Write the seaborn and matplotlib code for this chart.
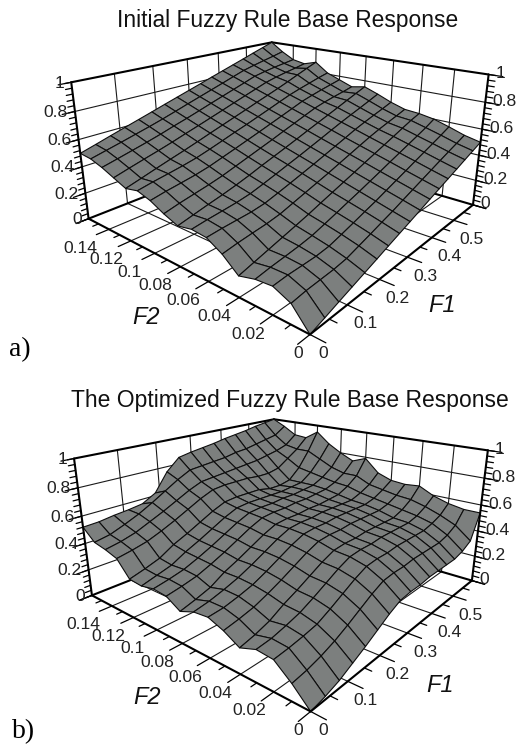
import numpy as np
import matplotlib
matplotlib.use("Agg")
import matplotlib.pyplot as plt
import seaborn as sns
from mpl_toolkits.mplot3d import proj3d

F1_GRID = [0,.0375,.075,.1125,.15,.1875,.225,.2625,.3,.3375,.375,.4125,.45,.4875,.525,.5625,.6]
F2_GRID = [0,.01,.02,.03,.04,.05,.06,.07,.08,.09,.10,.11,.12,.13,.14,.15,.16]
F1_TICKS = [0,.1,.2,.3,.4,.5]
F2_TICKS = [0,.02,.04,.06,.08,.10,.12,.14]
Z_TICKS = [0,.2,.4,.6,.8,1]
F1_LABELS = ["0","0.1","0.2","0.3","0.4","0.5"]
F2_LABELS = ["0","0.02","0.04","0.06","0.08","0.1","0.12","0.14"]
Z_LABELS = ["0","0.2","0.4","0.6","0.8","1"]

Z_A = [
[0,.031,.063,.094,.125,.156,.188,.219,.25,.281,.313,.344,.375,.406,.438,.469,.5],
[.13,.143,.149,.155,.168,.196,.224,.253,.281,.313,.344,.375,.406,.437,.467,.496,.526],
[.18,.188,.189,.191,.202,.228,.256,.285,.3125,.344,.375,.406,.438,.469,.5,.531,.565],
[.17,.186,.198,.211,.228,.256,.285,.315,.344,.375,.406,.438,.469,.5,.531,.563,.60],
[.14,.168,.196,.224,.252,.281,.313,.344,.375,.406,.438,.469,.5,.531,.563,.594,.62],
[.23,.247,.26,.272,.29,.319,.348,.377,.406,.438,.469,.5,.531,.558,.582,.605,.63],
[.29,.299,.305,.311,.325,.352,.38,.409,.438,.469,.5,.531,.563,.59,.615,.639,.665],
[.30,.314,.325,.337,.354,.381,.41,.44,.469,.5,.531,.563,.594,.623,.651,.68,.71],
[.28,.305,.33,.353,.379,.408,.44,.47,.5,.531,.563,.594,.625,.656,.688,.719,.75],
[.32,.345,.366,.387,.411,.441,.471,.501,.531,.563,.594,.625,.656,.678,.696,.712,.73],
[.37,.39,.406,.423,.445,.474,.503,.533,.563,.594,.625,.656,.688,.711,.732,.751,.77],
[.40,.42,.437,.455,.476,.504,.534,.565,.594,.625,.656,.688,.719,.744,.767,.79,.81],
[.38,.41,.441,.471,.5,.531,.563,.594,.625,.656,.688,.719,.75,.783,.818,.852,.885],
[.42,.449,.477,.504,.533,.564,.594,.625,.656,.688,.719,.75,.781,.803,.821,.837,.855],
[.46,.485,.511,.537,.565,.596,.625,.656,.688,.719,.75,.781,.813,.832,.848,.861,.875],
[.49,.516,.542,.569,.596,.625,.656,.688,.719,.75,.781,.813,.844,.867,.888,.908,.93],
[.5,.531,.563,.594,.625,.656,.688,.719,.75,.781,.813,.844,.875,.906,.938,.969,1.0],
]
Z_B = [
[0,.02,.05,.095,.14,.19,.24,.28,.29,.29,.30,.30,.30,.30,.32,.36,.54],
[.11,.125,.15,.185,.23,.28,.33,.37,.38,.38,.39,.39,.39,.39,.41,.45,.54],
[.20,.21,.225,.245,.29,.34,.39,.43,.44,.44,.45,.45,.45,.45,.47,.50,.56],
[.21,.22,.245,.275,.32,.37,.42,.46,.47,.47,.48,.48,.48,.48,.50,.54,.595],
[.17,.195,.23,.285,.33,.38,.43,.47,.48,.48,.49,.49,.49,.49,.52,.57,.65],
[.23,.25,.275,.315,.36,.41,.46,.50,.51,.51,.52,.52,.52,.52,.54,.58,.64],
[.27,.28,.305,.335,.38,.43,.48,.52,.53,.53,.54,.54,.54,.54,.56,.60,.65],
[.26,.28,.31,.345,.39,.44,.49,.53,.54,.54,.55,.55,.55,.55,.58,.62,.69],
[.22,.25,.285,.345,.39,.44,.49,.53,.54,.54,.55,.55,.56,.57,.61,.67,.79],
[.28,.30,.325,.365,.41,.46,.51,.55,.56,.56,.57,.57,.58,.59,.62,.67,.75],
[.29,.31,.335,.375,.42,.47,.52,.56,.57,.57,.58,.58,.59,.60,.64,.70,.80],
[.27,.30,.33,.385,.43,.48,.53,.57,.58,.58,.58,.58,.59,.60,.66,.75,.86],
[.28,.31,.345,.405,.45,.50,.55,.59,.60,.60,.60,.58,.58,.60,.68,.80,.945],
[.39,.41,.435,.475,.52,.57,.62,.66,.67,.67,.67,.66,.66,.68,.74,.80,.88],
[.42,.44,.47,.515,.56,.61,.66,.70,.71,.72,.73,.74,.75,.77,.79,.82,.89],
[.44,.46,.50,.545,.60,.66,.72,.77,.78,.79,.80,.82,.83,.85,.87,.89,.95],
[.52,.525,.54,.55,.565,.62,.76,.85,.87,.885,.90,.92,.935,.95,.97,.985,1.0],
]

VIEW_A = (19.9502, -139.8325, -1.5269, 1.007, 0.5007, -0.191, 278.8197, 154.4277)
VIEW_B = (20.0054, -139.9185, -1.5571, 0.9983, 0.5041, -0.1996, 280.3239, 530.6397)

sns.set_style("white")
plt.rcParams["font.family"] = ["Liberation Sans", "DejaVu Sans"]
W, H, S = 516, 745, 500
fig = plt.figure(figsize=(W/100, H/100), dpi=100)

def setup(ax, p):
    elev, azim, lf, by, bz, lz, cx, cy = p
    ax.view_init(elev=elev, azim=azim)
    ax.set_proj_type('persp', focal_length=float(np.exp(lf)))
    ax.set_box_aspect((1, by, bz), zoom=float(np.exp(lz)))
    ax.set_position([(cx-S/2)/W, 1-(cy+S/2)/H, S/W, S/H])
    ax.apply_aspect()

COL = "#7c7f7e"
def panel(p, Z):
    ax = fig.add_axes([0,0,.5,.5], projection='3d', computed_zorder=False)
    ax.set_xlim(0,.6); ax.set_ylim(0,.16); ax.set_zlim(0,1)
    setup(ax, p)
    ax.set_axis_off(); ax.patch.set_visible(False)
    thin = dict(color="#1a1a1a", lw=.8, zorder=1)
    thick = dict(color="k", lw=1.5, zorder=1)
    for t in F1_TICKS[1:]:
        ax.plot([t,t],[0,.16],[0,0],**thin)
        ax.plot([t,t],[.16,.16],[0,1],**thin)
    for t in F2_TICKS[1:]:
        ax.plot([0,.6],[t,t],[0,0],**thin)
        ax.plot([.6,.6],[t,t],[0,1],**thin)
    for t in Z_TICKS[1:-1]:
        ax.plot([0,.6],[.16,.16],[t,t],**thin)
        ax.plot([.6,.6],[0,.16],[t,t],**thin)
    ax.plot([0,.6],[.16,.16],[0,0],**thick)
    ax.plot([.6,.6],[0,.16],[0,0],**thick)
    ax.plot([0,.6],[.16,.16],[1,1],**thick)
    ax.plot([.6,.6],[0,.16],[1,1],**thick)
    X, Y = np.meshgrid(F1_GRID, F2_GRID)
    ax.plot_surface(X, Y, np.array(Z), color=COL, edgecolor="#0d0d0d", linewidth=.8,
                    shade=False, rstride=1, cstride=1, zorder=2)
    fr = dict(color="k", lw=1.5, zorder=3)
    ax.plot([0,0],[.16,.16],[0,1],**fr)
    ax.plot([.6,.6],[0,0],[0,1],**fr)
    ax.plot([0,0],[0,.16],[0,0],**fr)
    ax.plot([0,.6],[0,0],[0,0],**fr)
    tk = dict(color="k", lw=.9, zorder=3)
    for t in F2_TICKS+[.16]:
        ax.plot([-.03,0],[t,t],[0,0],**tk)
    for t in [.01,.03,.05,.07,.09,.11,.13,.15]:
        ax.plot([-.014,0],[t,t],[0,0],**tk)
    for t in F1_TICKS+[.6]:
        ax.plot([t,t],[-.008,0],[0,0],**tk)
    for t in [.05,.15,.25,.35,.45,.55]:
        ax.plot([t,t],[-.004,0],[0,0],**tk)
    for t in Z_TICKS:
        ax.plot([-.028,0],[.16,.16],[t,t],**tk)
        ax.plot([.6,.6],[-.008,0],[t,t],**tk)
    for t in np.arange(0,1.001,.04):
        ax.plot([-.014,0],[.16,.16],[t,t],**tk)
        ax.plot([.6,.6],[-.004,0],[t,t],**tk)
    M = ax.get_proj()
    def lab(x,y,z,s,dx,dy,ha):
        a,b,_ = proj3d.proj_transform(x,y,z,M)
        ax.annotate(s,(a,b),xytext=(dx,dy),textcoords='offset pixels',ha=ha,va='center',
                    fontsize=12.6,color="#222222",annotation_clip=False,zorder=5)
    for t,s in zip(F2_TICKS,F2_LABELS):
        dx = -12 if t==0 else (-29 if t==.14 else -25)
        lab(0,t,0,s,dx,-19,'center')
    for t,s in zip(F1_TICKS,F1_LABELS):
        lab(t,0,0,s,13 if t==0 else 18,-19,'center')
    for t,s in zip(Z_TICKS,Z_LABELS):
        lab(0,.16,t,s,-7,-1,'right')
        lab(.6,0,t,s,7,1,'left')
    return ax

panel(VIEW_A, Z_A)
panel(VIEW_B, Z_B)

def T(x,y,s,**k):
    fig.text(x/W,1-y/H,s,ha='center',va='center',**k)
T(288,21,"Initial Fuzzy Rule Base Response",fontsize=16.4,color="#111111")
T(290,400,"The Optimized Fuzzy Rule Base Response",fontsize=16.5,color="#111111")
T(146,317,"F2",fontsize=17,style='italic',color="#111111")
T(442,306,"F1",fontsize=17,style='italic',color="#111111")
T(147,697,"F2",fontsize=17,style='italic',color="#111111")
T(440,685,"F1",fontsize=17,style='italic',color="#111111")
T(20,350,"a)",fontsize=20,family="Liberation Serif",color="k")
T(24,732,"b)",fontsize=20,family="Liberation Serif",color="k")
fig.savefig("out.png",dpi=100,facecolor="white")
